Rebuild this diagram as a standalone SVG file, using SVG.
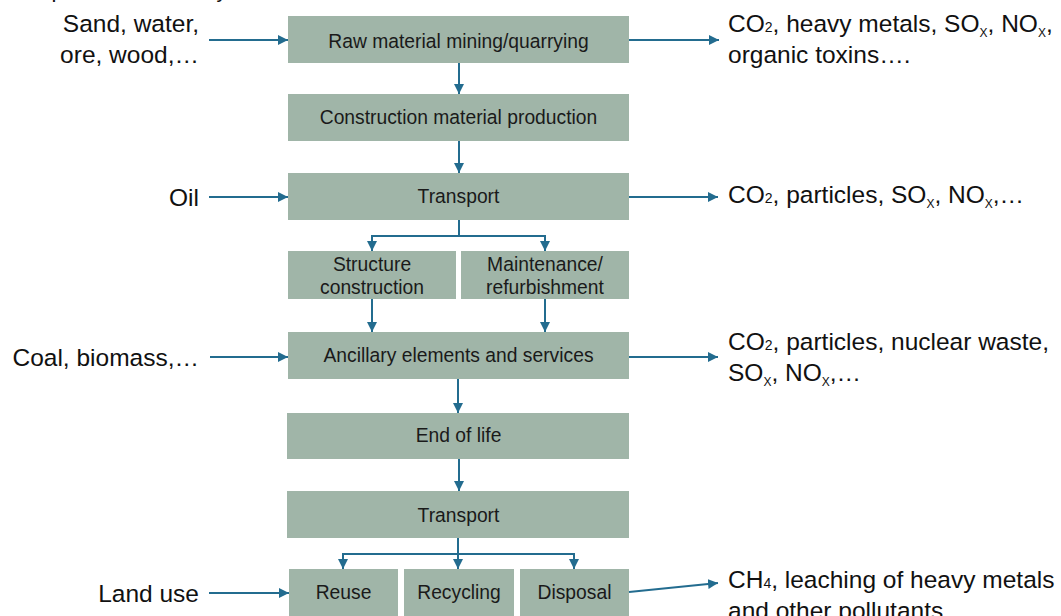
<svg xmlns="http://www.w3.org/2000/svg" width="1061" height="616" viewBox="0 0 1061 616">
  <style>
    .box { fill: #a0b5a8; }
    .bt { font-family: "Liberation Sans", Arial, sans-serif; font-size: 19.3px; fill: #1a1a1a; text-anchor: middle; }
    .side { font-family: "Liberation Sans", Arial, sans-serif; font-size: 24.5px; fill: #111111; }
    .head { font-size: 22px; }
    .lt { text-anchor: end; }
    .sub { font-size: 14px; }
    .subx { font-size: 12px; }
    .conn { fill: none; stroke: #236c8f; stroke-width: 2; }
  </style>
  <defs>
    <marker id="ah" viewBox="0 0 10 10" refX="10" refY="5" markerWidth="5" markerHeight="5" orient="auto" markerUnits="strokeWidth">
      <path d="M0,0 L10,5 L0,10 Z" fill="#236c8f"/>
    </marker>
  </defs>
  <rect width="1061" height="616" fill="#ffffff"/>

  <!-- heading, mostly above the page edge -->
  <text class="side head" x="27" y="-3">Impacts of the life cycle</text>

  <!-- process chain -->
  <g id="raw">
    <rect class="box" x="288" y="16" width="341" height="47"/>
    <text class="bt" x="458.5" y="48">Raw material mining/quarrying</text>
  </g>
  <g id="production">
    <rect class="box" x="288" y="94" width="341" height="47"/>
    <text class="bt" x="458.5" y="124">Construction material production</text>
  </g>
  <g id="transport1">
    <rect class="box" x="288" y="173" width="341" height="47"/>
    <text class="bt" x="458.5" y="203">Transport</text>
  </g>
  <g id="structure">
    <rect class="box" x="288" y="251" width="168" height="48"/>
    <text class="bt" x="372" y="271">Structure</text>
    <text class="bt" x="372" y="294">construction</text>
  </g>
  <g id="maintenance">
    <rect class="box" x="461" y="251" width="168" height="48"/>
    <text class="bt" x="545" y="271">Maintenance/</text>
    <text class="bt" x="545" y="294">refurbishment</text>
  </g>
  <g id="ancillary">
    <rect class="box" x="288" y="332" width="341" height="47"/>
    <text class="bt" x="458.5" y="362">Ancillary elements and services</text>
  </g>
  <g id="endoflife">
    <rect class="box" x="287" y="413" width="342" height="46"/>
    <text class="bt" x="458.5" y="442">End of life</text>
  </g>
  <g id="transport2">
    <rect class="box" x="287" y="491" width="342" height="47"/>
    <text class="bt" x="458.5" y="522">Transport</text>
  </g>
  <g id="reuse">
    <rect class="box" x="289" y="569" width="109" height="60"/>
    <text class="bt" x="343.5" y="599">Reuse</text>
  </g>
  <g id="recycling">
    <rect class="box" x="404" y="569" width="110" height="60"/>
    <text class="bt" x="459" y="599">Recycling</text>
  </g>
  <g id="disposal">
    <rect class="box" x="520" y="569" width="109" height="60"/>
    <text class="bt" x="574.5" y="599">Disposal</text>
  </g>

  <!-- inputs -->
  <g id="in-raw">
    <text class="side lt" x="199" y="32">Sand, water,</text>
    <text class="side lt" x="199" y="63">ore, wood,…</text>
  </g>
  <g id="in-oil">
    <text class="side lt" x="199" y="206">Oil</text>
  </g>
  <g id="in-coal">
    <text class="side lt" x="199" y="366">Coal, biomass,…</text>
  </g>
  <g id="in-land">
    <text class="side lt" x="199" y="602">Land use</text>
  </g>

  <!-- outputs -->
  <g id="out-raw">
    <text class="side" x="728" y="32">CO<tspan class="sub">2</tspan>, heavy metals, SO<tspan class="subx" dy="5">X</tspan><tspan dy="-5">, NO</tspan><tspan class="subx" dy="5">X</tspan><tspan dy="-5">,</tspan></text>
    <text class="side" x="728" y="63">organic toxins….</text>
  </g>
  <g id="out-transport">
    <text class="side" x="728" y="203">CO<tspan class="sub">2</tspan>, particles, SO<tspan class="subx" dy="5">X</tspan><tspan dy="-5">, NO</tspan><tspan class="subx" dy="5">X</tspan><tspan dy="-5">,…</tspan></text>
  </g>
  <g id="out-ancillary">
    <text class="side" x="728" y="350">CO<tspan class="sub">2</tspan>, particles, nuclear waste,</text>
    <text class="side" x="728" y="381">SO<tspan class="subx" dy="5">X</tspan><tspan dy="-5">, NO</tspan><tspan class="subx" dy="5">X</tspan><tspan dy="-5">,…</tspan></text>
  </g>
  <g id="out-disposal">
    <text class="side" x="728" y="588">CH<tspan class="sub">4</tspan>, leaching of heavy metals</text>
    <text class="side" x="728" y="619">and other pollutants,…</text>
  </g>

  <!-- connectors -->
  <g id="connectors">
    <!-- main chain -->
    <path class="conn" d="M459,63 V94" marker-end="url(#ah)"/>
    <path class="conn" d="M459,141 V173" marker-end="url(#ah)"/>
    <path class="conn" d="M459,220 V236 H372 V251" marker-end="url(#ah)"/>
    <path class="conn" d="M459,236 H545 V251" marker-end="url(#ah)"/>
    <path class="conn" d="M372,299 V332" marker-end="url(#ah)"/>
    <path class="conn" d="M545,299 V332" marker-end="url(#ah)"/>
    <path class="conn" d="M458,379 V413" marker-end="url(#ah)"/>
    <path class="conn" d="M459,459 V491" marker-end="url(#ah)"/>
    <path class="conn" d="M458,538 V554 H343 V569" marker-end="url(#ah)"/>
    <path class="conn" d="M458,554 V569" marker-end="url(#ah)"/>
    <path class="conn" d="M458,554 H574 V569" marker-end="url(#ah)"/>
    <!-- inputs -->
    <path class="conn" d="M209,40 H288" marker-end="url(#ah)"/>
    <path class="conn" d="M209,197 H288" marker-end="url(#ah)"/>
    <path class="conn" d="M210,357 H288" marker-end="url(#ah)"/>
    <path class="conn" d="M209,593 H289" marker-end="url(#ah)"/>
    <!-- outputs -->
    <path class="conn" d="M629,40 H719" marker-end="url(#ah)"/>
    <path class="conn" d="M629,197 H718" marker-end="url(#ah)"/>
    <path class="conn" d="M629,357 H718" marker-end="url(#ah)"/>
    <path class="conn" d="M629,592 L718,583" marker-end="url(#ah)"/>
  </g>
</svg>
